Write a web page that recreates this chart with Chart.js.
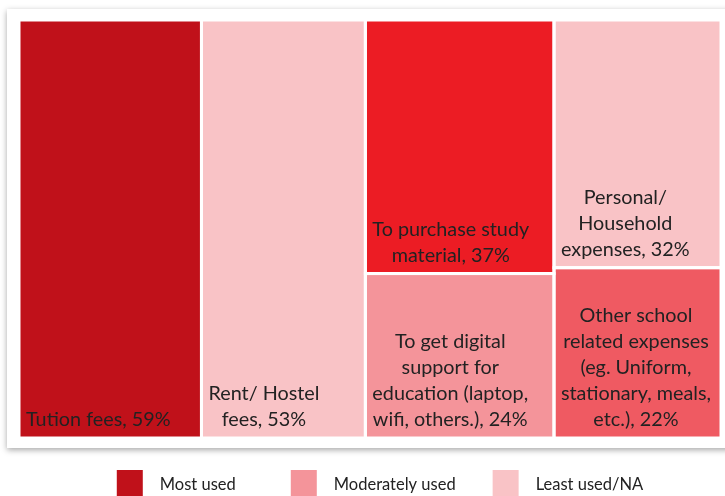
<!DOCTYPE html>
<html>
<head>
<meta charset="utf-8">
<script src="https://cdn.jsdelivr.net/npm/chart.js@4.4.0/dist/chart.umd.min.js"></script>
<style>
  html, body { margin: 0; padding: 0; background: #fff; }
  #wrap { width: 725px; height: 496px; }
</style>
</head>
<body>
<div id="wrap"><canvas id="chart" width="725" height="496"></canvas></div>
<script>
// Treemap data (share of respondents, %)
const categories = [
    "Tution fees",
    "Rent/ Hostel\nfees",
    "To purchase study\nmaterial",
    "To get digital\nsupport for\neducation (laptop,\nwifi, others.)",
    "Personal/\nHousehold\nexpenses",
    "Other school\nrelated expenses\n(eg. Uniform,\nstationary, meals,\netc.)"
];
const shares = [59, 53, 37, 24, 32, 22];
// treemap columns, indexes into categories (top to bottom)
const columns = [[0], [1], [2, 3], [4, 5]];
const legendLabels = ["Most used", "Moderately used", "Least used/NA"];

// Styling
const cellColors = ['#c0111a', '#f9c3c6', '#ec1c24', '#f4949a', '#f9c3c6', '#ef5a62'];
const legendColors = ['#c0111a', '#f4949a', '#f9c3c6'];
const FONT = 'Lato, "Open Sans", sans-serif';

// Slice-and-dice layout: column widths by column sum, heights by share inside the column
const total = shares.reduce((a, b) => a + b, 0);
const cells = [];
let xPos = 0;
columns.forEach(col => {
    const colSum = col.reduce((s, i) => s + shares[i], 0);
    let yPos = 0;
    col.forEach(i => {
        const h = shares[i] / colSum * 100;
        cells[i] = { x0: xPos, x1: xPos + colSum, y0: yPos, y1: yPos + h };
        yPos += h;
    });
    xPos += colSum;
});

// each cell is a flat line along its top edge, filled down to its bottom edge
const datasets = cells.map((c, i) => ({
    label: categories[i],
    data: [{ x: c.x0, y: c.y0 }, { x: c.x1, y: c.y0 }],
    fill: { value: c.y1 },
    backgroundColor: cellColors[i],
    borderWidth: 0,
    pointRadius: 0,
    tension: 0
}));

const treemapDecor = {
    id: 'treemapDecor',
    beforeDraw(chart) {
        const ctx = chart.ctx;
        ctx.save();
        ctx.shadowColor = 'rgba(0,0,0,0.35)';
        ctx.shadowBlur = 6;
        ctx.shadowOffsetY = 2;
        ctx.fillStyle = '#fff';
        ctx.fillRect(7, 9, 740, 439);
        ctx.restore();
    },
    afterDatasetsDraw(chart) {
        const ctx = chart.ctx;
        const xs = chart.scales.x, ys = chart.scales.y;
        ctx.save();
        // white gutters between cells
        ctx.strokeStyle = '#fff';
        ctx.lineWidth = 3;
        cells.forEach(c => {
            const l = xs.getPixelForValue(c.x0), r = xs.getPixelForValue(c.x1);
            const t = ys.getPixelForValue(c.y0), b = ys.getPixelForValue(c.y1);
            ctx.strokeRect(l, t, r - l, b - t);
        });
        // labels: block sits bottom-left, lines centred inside the block
        ctx.font = '19.8px ' + FONT;
        ctx.fillStyle = '#222';
        ctx.textAlign = 'center';
        ctx.textBaseline = 'alphabetic';
        cells.forEach((c, i) => {
            const lines = categories[i].split('\n');
            lines[lines.length - 1] += ', ' + shares[i] + '%';
            const l = xs.getPixelForValue(c.x0), r = xs.getPixelForValue(c.x1);
            const b = ys.getPixelForValue(c.y1);
            const blockW = Math.max(...lines.map(s => ctx.measureText(s).width));
            const left = Math.max(l + 2, Math.min(l + 7, r - 10 - blockW));
            const cx = left + blockW / 2;
            lines.forEach((s, k) => {
                ctx.fillText(s, cx, b - 12 - (lines.length - 1 - k) * 26);
            });
        });
        ctx.restore();
    },
    afterDraw(chart) {
        const ctx = chart.ctx;
        ctx.save();
        ctx.font = '16.5px ' + FONT;
        const box = 26, gapText = 17, gaps = [55, 37];
        const widths = legendLabels.map(s => box + gapText + ctx.measureText(s).width);
        const full = widths.reduce((a, b) => a + b, 0) + gaps.reduce((a, b) => a + b, 0);
        let x = 380 - full / 2;
        legendLabels.forEach((s, i) => {
            ctx.fillStyle = legendColors[i];
            ctx.fillRect(x, 470, box, box);
            ctx.fillStyle = '#222';
            ctx.textAlign = 'left';
            ctx.fillText(s, x + box + gapText, 490);
            x += widths[i] + (gaps[i] || 0);
        });
        ctx.restore();
    }
};

new Chart(document.getElementById('chart'), {
    type: 'line',
    data: { datasets },
    options: {
        responsive: false,
        animation: false,
        layout: { padding: { left: 19, right: 4, top: 20, bottom: 58 } },
        scales: {
            x: { type: 'linear', min: 0, max: total, display: false },
            y: { type: 'linear', min: 0, max: 100, reverse: true, display: false }
        },
        plugins: {
            legend: { display: false },
            tooltip: { enabled: false }
        }
    },
    plugins: [treemapDecor]
});
</script>
</body>
</html>
